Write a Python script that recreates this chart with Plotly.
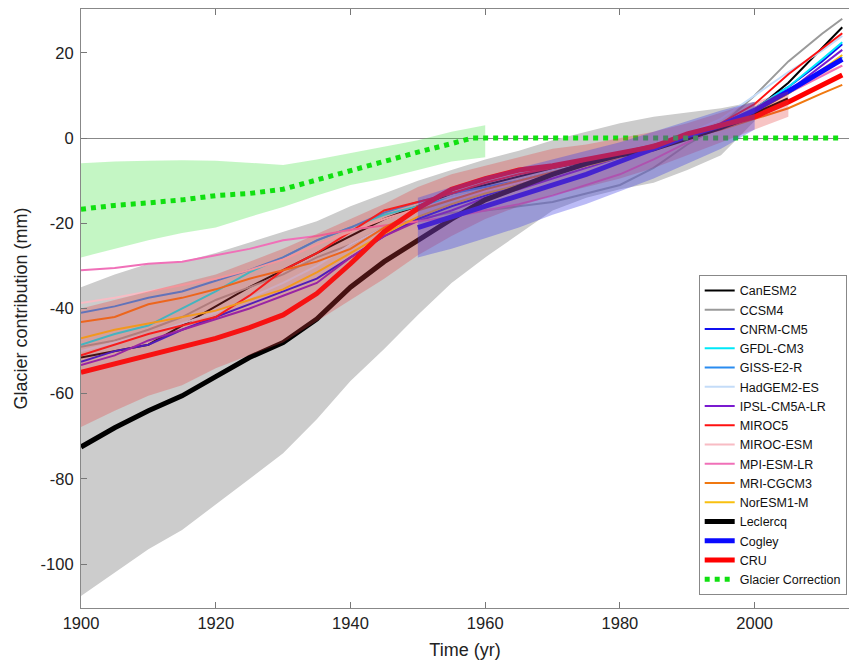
import plotly.graph_objects as go

YEARS = [1900, 1905, 1910, 1915, 1920, 1925, 1930, 1935, 1940, 1945, 1950, 1955,
         1960, 1965, 1970, 1975, 1980, 1985, 1990, 1995, 2000, 2005, 2010, 2013]

MODEL_NAMES = ["CanESM2", "CCSM4", "CNRM-CM5", "GFDL-CM3", "GISS-E2-R", "HadGEM2-ES",
               "IPSL-CM5A-LR", "MIROC5", "MIROC-ESM", "MPI-ESM-LR", "MRI-CGCM3", "NorESM1-M"]
MODEL_COLORS = ["#000000", "#9a9a9a", "#1010f0", "#00e8f8", "#2a8cf0", "#c4dcf8",
                "#7a1ad0", "#ff1010", "#f8bcc4", "#f070b8", "#f07810", "#f8c010"]

CanESM2 = [-51.5, -50, -48.5, -44, -39.5, -35, -31, -27, -23, -19, -16, -13, -11, -9, -7, -5.5, -3.5, -2, 0, 2.5, 6.5, 13, 21, 26]
CCSM4 = [-49, -47.5, -45, -42, -38, -35, -32, -28, -25, -21, -19, -17.5, -17, -16, -15, -13, -11, -7, -1.5, 3, 10, 18, 24.5, 28]
CNRM_CM5 = [-52.5, -50, -48.5, -45, -42, -39, -36, -33, -28, -23, -19, -16, -13.5, -11, -8.5, -6, -4, -2, 0.5, 3, 7, 12, 18, 22]
GFDL_CM3 = [-48.5, -46, -44, -40, -36, -31.5, -28, -24, -21, -18, -16, -14, -12, -10, -8, -6, -4, -2, 0.5, 3, 7, 12, 18.5, 22.5]
GISS_E2_R = [-41, -39.5, -37.5, -36, -33.5, -31, -28, -24, -21, -17.5, -15, -13, -11.5, -10, -8, -6, -4, -2, 0.5, 3, 6.5, 10.5, 15.5, 19]
HadGEM2_ES = [-50, -48, -46, -43.5, -41, -37.5, -34, -30, -25, -21, -17, -14, -12, -10, -8, -6, -3.5, -1.5, 1, 4.5, 10, 15.5, 20.5, 24]
IPSL_CM5A_LR = [-53.3, -51, -47.5, -45, -42.5, -40, -37, -34, -28, -23, -19.5, -17, -14, -12, -9.5, -7, -4.5, -2.5, 0, 3, 6.5, 11, 17, 20.7]
MIROC5 = [-51, -48.5, -46, -44, -42, -37, -31, -27, -22, -17, -15, -13, -10.5, -8.5, -7, -5.5, -3.5, -1.5, 0.5, 3.5, 8, 15, 21, 24.6]
MIROC_ESM = [-38.7, -37.5, -36, -34.5, -33, -31, -28.5, -25, -22, -19, -16.5, -14.5, -12.5, -10.5, -8.5, -6.5, -4, -2, 0.5, 3, 7, 11, 15, 17]
MPI_ESM_LR = [-31, -30.5, -29.5, -29, -27.5, -26, -24, -23, -21.5, -20.5, -19.5, -18.5, -17, -15.5, -13.5, -11, -8.5, -5, -1, 2.5, 6.5, 10.5, 14.5, 17]
MRI_CGCM3 = [-43.2, -42, -39, -37.5, -35.5, -33, -31, -29, -26, -21, -17, -14.5, -12, -10, -8, -6, -4, -2, 0, 2, 4.5, 7, 10.5, 12.5]
NorESM1_M = [-47, -45, -43.5, -42, -40.5, -38, -35.5, -31.5, -27, -22.5, -18.5, -15.5, -13, -11, -8.5, -6.5, -4.5, -2.5, 0, 2.5, 6, 10.5, 16, 19.5]
MODEL_VALUES = [CanESM2, CCSM4, CNRM_CM5, GFDL_CM3, GISS_E2_R, HadGEM2_ES,
                IPSL_CM5A_LR, MIROC5, MIROC_ESM, MPI_ESM_LR, MRI_CGCM3, NorESM1_M]

LECLERCQ_YEARS = [1900, 1905, 1910, 1913, 1915, 1920, 1925, 1930, 1935, 1940, 1945, 1950,
                  1955, 1960, 1965, 1970, 1975, 1980, 1985, 1990, 1995, 2000, 2005]
LECLERCQ = [-72.5, -68, -64, -62, -60.5, -56, -51.5, -48, -42.5, -35, -29, -24,
            -19, -14.5, -11.5, -8.5, -6, -4, -2.5, 0, 2.5, 5.5, 9]

COGLEY_YEARS = [1950, 1955, 1960, 1965, 1970, 1975, 1980, 1985, 1990, 1995, 2000, 2005, 2010, 2013]
COGLEY = [-21, -18.5, -16, -13.5, -11, -8.5, -5.5, -2.5, 0.5, 3, 6.5, 11, 15.5, 18.5]

CRU = [-55, -53, -51, -49, -47, -44.5, -41.5, -36.5, -29.5, -22, -16.5, -12, -9.5, -7.5, -6.5, -5, -3.5, -2, 1, 3, 5, 8.5, 12.5, 14.8]

CORR_YEARS = [1900, 1905, 1910, 1915, 1920, 1925, 1930, 1935, 1940, 1945, 1950, 1955, 1958, 2013]
CORRECTION = [-16.7, -15.8, -15.2, -14.5, -13.5, -13, -12, -9.8, -7.5, -5.5, -3.3, -1.3, 0, 0]

GREEN_YEARS = [1900, 1905, 1910, 1915, 1920, 1925, 1930, 1935, 1940, 1945, 1950, 1955, 1960]
GREEN_UPPER = [-5.9, -5.5, -5.3, -5.2, -5.3, -5.8, -6.3, -5, -3.5, -2, -0.5, 1.5, 3]
GREEN_LOWER = [-28, -26, -24, -22.3, -21, -18.5, -16.2, -13.5, -11, -9.5, -7.5, -5.5, -4.5]

GRAY_YEARS = [1900, 1905, 1910, 1915, 1920, 1925, 1930, 1935, 1940, 1945, 1950,
              1955, 1960, 1965, 1970, 1975, 1980, 1985, 1990, 1995, 2000]
GRAY_UPPER = [-35, -32, -29.5, -29, -27, -24.5, -22, -19.5, -16, -13, -10,
              -7.5, -5, -3, -0.5, 1.5, 3.5, 5, 6, 7, 8.5]
GRAY_LOWER = [-107.5, -102, -96.5, -92, -86, -80, -74, -66, -57, -49.5, -41.5,
              -34, -28, -22.5, -17, -14, -12, -10.5, -7.5, -4, 4]

RED_YEARS = [1900, 1905, 1910, 1915, 1920, 1925, 1930, 1935, 1940, 1945, 1950,
             1955, 1960, 1965, 1970, 1975, 1980, 1985, 1990, 1995, 2000, 2005]
RED_UPPER = [-40, -38, -36, -34, -32, -29, -26, -22.5, -19, -15.5, -11.5,
             -8.5, -6.5, -4.5, -2.5, -1.5, 0, 1.5, 3.5, 6, 8.5, 11]
RED_LOWER = [-67.8, -64, -60.5, -58, -54, -51, -48, -43, -38, -33, -27.5,
             -23, -19, -16, -13.5, -11.5, -9.5, -7, -4, -1, 2, 5]

BLUE_YEARS = [1950, 1955, 1960, 1965, 1970, 1975, 1980, 1985, 1990, 1995, 2000]
BLUE_UPPER = [-14, -11.5, -9, -7, -5, -3, -1, 1.5, 4, 6.5, 8.5]
BLUE_LOWER = [-28, -26, -23.5, -21, -18, -15.5, -12.5, -9.5, -6, -2.5, 2]

X_TICKS = [1900, 1920, 1940, 1960, 1980, 2000]
Y_TICKS = [20, 0, -20, -40, -60, -80, -100]
Y_TICK_LABELS = ["20", "0", "-20", "-40", "-60", "-80", "-100"]


def band(xs, up, lo, color):
    return go.Scatter(x=xs + xs[::-1], y=up + lo[::-1], fill="toself", fillcolor=color,
                      line=dict(width=0), mode="lines", showlegend=False, hoverinfo="skip")


fig = go.Figure()
fig.add_trace(band(GRAY_YEARS, GRAY_UPPER, GRAY_LOWER, "rgb(204,204,204)"))
fig.add_trace(band(GREEN_YEARS, GREEN_UPPER, GREEN_LOWER, "rgba(60,225,60,0.3)"))

for name, col, vals in zip(MODEL_NAMES, MODEL_COLORS, MODEL_VALUES):
    fig.add_trace(go.Scatter(x=YEARS, y=vals, mode="lines", name=name,
                             line=dict(color=col, width=2)))

fig.add_trace(go.Scatter(x=LECLERCQ_YEARS, y=LECLERCQ, mode="lines", name="Leclercq",
                         line=dict(color="#000000", width=5)))
fig.add_trace(go.Scatter(x=COGLEY_YEARS, y=COGLEY, mode="lines", name="Cogley",
                         line=dict(color="#0a0aff", width=5)))
fig.add_trace(go.Scatter(x=YEARS, y=CRU, mode="lines", name="CRU",
                         line=dict(color="#ff0000", width=5)))
fig.add_trace(go.Scatter(x=CORR_YEARS, y=CORRECTION, mode="lines", name="Glacier Correction",
                         line=dict(color="#10e010", width=5, dash="5px,5px")))

fig.add_trace(band(RED_YEARS, RED_UPPER, RED_LOWER, "rgba(230,60,60,0.3)"))
fig.add_trace(band(BLUE_YEARS, BLUE_UPPER, BLUE_LOWER, "rgba(60,60,230,0.35)"))

axis_font = dict(family="Liberation Sans, Arial, sans-serif", size=16.5, color="#222")
fig.update_layout(
    width=849, height=663,
    margin=dict(l=81, r=0, t=9, b=55),
    paper_bgcolor="white", plot_bgcolor="white",
    font=dict(family="Liberation Sans, Arial, sans-serif", color="#222"),
    xaxis=dict(range=[1900, 2014], tickvals=X_TICKS, ticks="inside", ticklen=6,
               tickcolor="#777", showline=True, linecolor="#888", linewidth=1.2,
               mirror="ticks", showgrid=False, zeroline=False, tickfont=axis_font,
               title=dict(text="Time (yr)", font=dict(size=18, color="#222"), standoff=12)),
    yaxis=dict(range=[-110.3, 30.3], tickvals=Y_TICKS, ticktext=Y_TICK_LABELS,
               ticks="inside", ticklen=6, ticklabelstandoff=3,
               tickcolor="#777", showline=True, linecolor="#888", linewidth=1.2,
               showgrid=False, zeroline=True, zerolinecolor="#888", zerolinewidth=1.2,
               tickfont=axis_font,
               title=dict(text="Glacier contribution (mm)", font=dict(size=18, color="#222"), standoff=8)),
    legend=dict(x=0.997, xanchor="right", y=0.022, yanchor="bottom",
                bgcolor="white", bordercolor="#888", borderwidth=1,
                font=dict(size=12.5, color="#111"), tracegroupgap=0,
                entrywidth=122, entrywidthmode="pixels"),
)

fig.write_html("out.html")
